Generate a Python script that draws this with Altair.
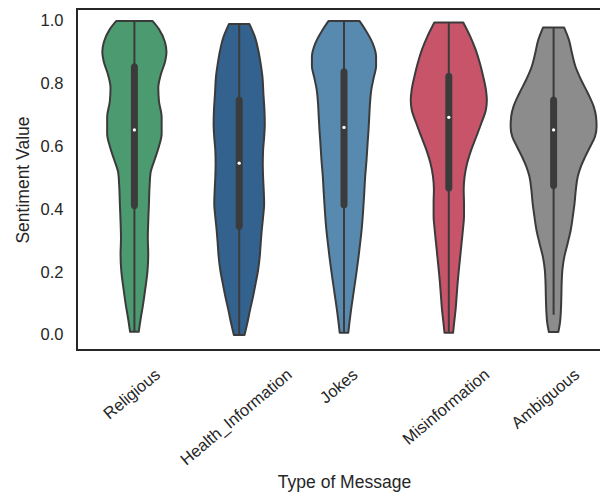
import altair as alt
import pandas as pd

categories = ["Religious", "Health_Information", "Jokes", "Misinformation", "Ambiguous"]
colors = ["#4c9a70", "#34628e", "#588ab0", "#c8546a", "#8c8c8c"]

# violin outlines: sentiment value and half-width (density, in category units)
religious_v = [1.0, 0.974, 0.932, 0.901, 0.870, 0.828, 0.787, 0.745, 0.693, 0.641, 0.600, 0.558,
               0.516, 0.475, 0.412, 0.360, 0.308, 0.256, 0.204, 0.152, 0.100, 0.048, 0.010]
religious_w = [0.172, 0.234, 0.292, 0.306, 0.292, 0.251, 0.228, 0.234, 0.260, 0.260, 0.234, 0.193,
               0.154, 0.145, 0.138, 0.132, 0.128, 0.132, 0.125, 0.106, 0.084, 0.058, 0.041]

health_v = [0.99, 0.948, 0.905, 0.863, 0.821, 0.768, 0.715, 0.672, 0.630, 0.588, 0.545, 0.503,
            0.461, 0.418, 0.376, 0.333, 0.291, 0.249, 0.206, 0.164, 0.122, 0.079, 0.037, 0.0]
health_w = [0.098, 0.151, 0.183, 0.205, 0.222, 0.231, 0.241, 0.244, 0.238, 0.228, 0.225, 0.228,
            0.234, 0.238, 0.228, 0.215, 0.205, 0.196, 0.180, 0.157, 0.132, 0.103, 0.077, 0.051]

jokes_v = [1.0, 0.971, 0.929, 0.886, 0.855, 0.823, 0.780, 0.738, 0.695, 0.653, 0.610, 0.557,
           0.504, 0.451, 0.398, 0.345, 0.292, 0.239, 0.185, 0.132, 0.079, 0.037, 0.007]
jokes_w = [0.147, 0.205, 0.273, 0.306, 0.306, 0.286, 0.260, 0.248, 0.241, 0.234, 0.225, 0.215,
           0.202, 0.193, 0.183, 0.171, 0.154, 0.135, 0.113, 0.090, 0.067, 0.051, 0.041]

misinfo_v = [0.995, 0.950, 0.908, 0.866, 0.823, 0.781, 0.749, 0.717, 0.675, 0.632, 0.590, 0.548,
             0.505, 0.463, 0.420, 0.378, 0.336, 0.293, 0.240, 0.187, 0.134, 0.081, 0.039, 0.007]
misinfo_w = [0.138, 0.205, 0.257, 0.296, 0.328, 0.354, 0.363, 0.354, 0.311, 0.263, 0.215, 0.176,
             0.151, 0.142, 0.145, 0.145, 0.135, 0.122, 0.106, 0.090, 0.077, 0.065, 0.051, 0.041]

ambiguous_v = [0.979, 0.939, 0.896, 0.854, 0.812, 0.769, 0.727, 0.695, 0.663, 0.632, 0.600, 0.568,
               0.536, 0.505, 0.462, 0.420, 0.377, 0.335, 0.293, 0.250, 0.208, 0.166, 0.123, 0.081,
               0.039, 0.009]
ambiguous_w = [0.101, 0.147, 0.176, 0.209, 0.263, 0.328, 0.383, 0.405, 0.410, 0.395, 0.350, 0.302,
               0.260, 0.231, 0.212, 0.200, 0.183, 0.164, 0.135, 0.103, 0.084, 0.077, 0.074, 0.070,
               0.061, 0.045]

# inner box statistics
q1 = [0.400, 0.334, 0.403, 0.456, 0.464]
median = [0.653, 0.547, 0.661, 0.693, 0.653]
q3 = [0.865, 0.759, 0.849, 0.835, 0.759]
whisker_lo = [0.010, 0.0, 0.007, 0.007, 0.064]
whisker_hi = [1.0, 0.99, 1.0, 0.995, 0.979]

outlines = [(religious_v, religious_w), (health_v, health_w), (jokes_v, jokes_w),
            (misinfo_v, misinfo_w), (ambiguous_v, ambiguous_w)]

rows = []
for i, (cat, (vs, ws)) in enumerate(zip(categories, outlines)):
    for v, w in zip(vs, ws):
        rows.append({"cat": cat, "idx": i, "v": v, "w": w})
violin_df = pd.DataFrame(rows).sort_values(["idx", "v"])

stats_df = pd.DataFrame({
    "cat": categories, "idx": list(range(len(categories))),
    "q1": q1, "median": median, "q3": q3, "lo": whisker_lo, "hi": whisker_hi,
})

DARK = "#3b3b3b"
TEXT = "#262626"
FONT = "Liberation Sans"

xscale = alt.Scale(domain=[-0.5, 4.5], nice=False, zero=False)
yscale = alt.Scale(domain=[-0.048, 1.038], nice=False, zero=False)

names_js = "[" + ",".join("'" + c + "'" for c in categories) + "]"

x_axis = alt.Axis(
    title="Type of Message", values=list(range(len(categories))),
    labelExpr=names_js + "[datum.value]",
    labelAngle=-40, labelAlign="right", labelBaseline="top",
    labelPadding=16, labelOffset={"expr": "length(" + names_js + "[datum.value]) * 3.0 - 9"},
    labelFlush=False, labelOverlap=False, labelBound=False,
    ticks=False, tickSize=0, domain=False, grid=False,
    labelFontSize=16.5, titleFontSize=17.5, titlePadding=5,
)
y_axis = alt.Axis(
    title="Sentiment Value", values=[0, 0.2, 0.4, 0.6, 0.8, 1.0], format=".1f",
    ticks=False, tickSize=0, domain=False, grid=False, labelPadding=14,
    labelFontSize=16.5, titleFontSize=17.5, titlePadding=8,
)

violin = alt.Chart(violin_df).transform_calculate(
    left="datum.idx - datum.w", right="datum.idx + datum.w"
).mark_area(
    orient="horizontal", interpolate="monotone", stroke=DARK, strokeWidth=2,
    strokeJoin="round", opacity=1, fillOpacity=1
).encode(
    y=alt.Y("v:Q", scale=yscale, axis=y_axis),
    x=alt.X("left:Q", scale=xscale, axis=x_axis),
    x2="right:Q",
    color=alt.Color("cat:N", scale=alt.Scale(domain=categories, range=colors), legend=None),
)

whisker = alt.Chart(stats_df).mark_rule(color=DARK, strokeWidth=2).encode(
    x=alt.X("idx:Q", scale=xscale, axis=x_axis),
    y=alt.Y("lo:Q", scale=yscale, axis=y_axis),
    y2="hi:Q",
)

box = alt.Chart(stats_df).mark_bar(size=7, cornerRadius=3.5, color=DARK).encode(
    x=alt.X("idx:Q", scale=xscale, axis=x_axis),
    y=alt.Y("q1:Q", scale=yscale, axis=y_axis),
    y2="q3:Q",
)

med = alt.Chart(stats_df).mark_circle(size=11, color="white", opacity=1).encode(
    x=alt.X("idx:Q", scale=xscale, axis=x_axis),
    y=alt.Y("median:Q", scale=yscale, axis=y_axis),
)

chart = alt.layer(violin, whisker, box, med).properties(
    width=534, height=341,
    autosize=alt.AutoSizeParams(type="none"),
    padding={"left": 69, "top": 1, "right": -11, "bottom": 144},
).configure_view(
    stroke=TEXT, strokeWidth=2
).configure_axis(
    labelFont=FONT, titleFont=FONT, labelColor=TEXT, titleColor=TEXT,
    titleFontWeight="normal",
)

chart.save("out.html", embed_options={"renderer": "svg", "actions": False})
